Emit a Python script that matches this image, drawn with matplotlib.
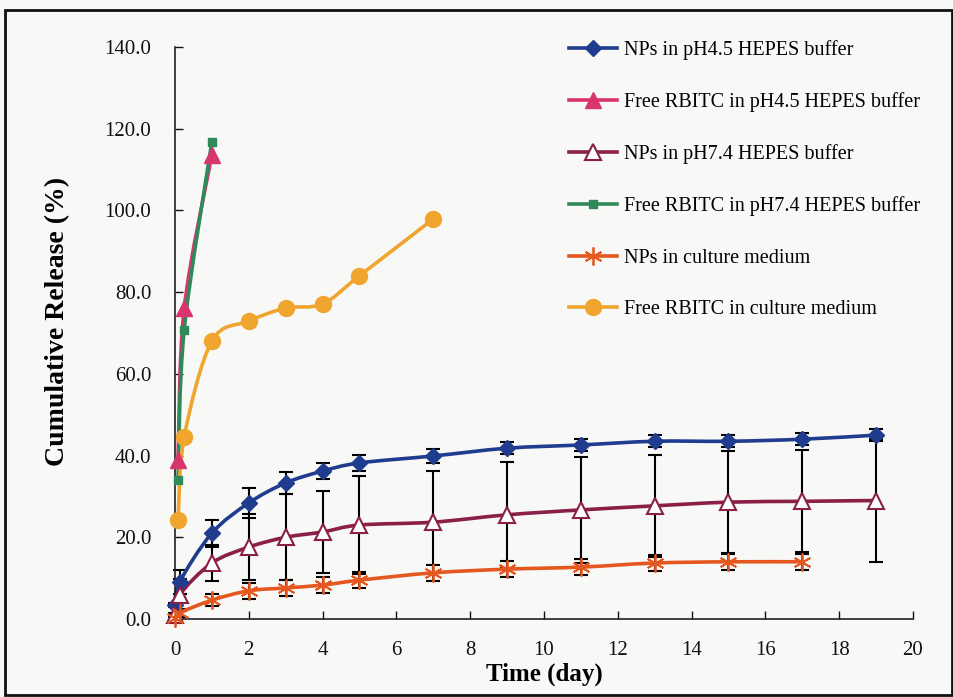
import matplotlib
matplotlib.use('Agg')
import matplotlib.pyplot as plt
import numpy as np
from matplotlib.path import Path
from matplotlib.patches import PathPatch, Rectangle
from matplotlib.lines import Line2D

# data
t_np = [0, 0.125, 1, 2, 3, 4, 5, 7, 9, 11, 13, 15, 17, 19]
np45 = [3.4, 9.0, 21.0, 28.4, 33.3, 36.2, 38.2, 39.9, 41.8, 42.6, 43.5, 43.5, 44.0, 45.0]
np45_err = [0.5, 3.0, 3.3, 3.7, 2.7, 2.0, 2.0, 1.8, 1.5, 1.5, 1.5, 1.5, 1.5, 1.5]
np74 = [1.0, 5.9, 13.7, 17.6, 20.0, 21.3, 23.0, 23.7, 25.5, 26.7, 27.7, 28.6, 28.8, 29.0]
np74_err = [0.5, 4.0, 4.5, 8.0, 10.5, 10.0, 12.0, 12.5, 13.0, 13.0, 12.5, 12.5, 12.5, 15.0]
t_np_med = [0, 0.125, 1, 2, 3, 4, 5, 7, 9, 11, 13, 15, 17]
np_med = [0.3, 1.5, 4.6, 6.9, 7.6, 8.3, 9.5, 11.3, 12.2, 12.7, 13.7, 14.0, 14.0]
np_med_err = [0.5, 1.0, 1.5, 2.0, 2.0, 2.0, 2.0, 2.0, 2.0, 2.0, 2.0, 2.0, 2.0]

t_free = [0.083, 0.25, 1]
free45 = [38.9, 76.0, 113.6]
free74 = [34.0, 70.7, 116.8]
t_free_med = [0.083, 0.25, 1, 2, 3, 4, 5, 7]
free_med = [24.2, 44.5, 68.0, 72.9, 76.1, 77.1, 84.0, 97.9]

labels = ['NPs in pH4.5 HEPES buffer', 'Free RBITC in pH4.5 HEPES buffer',
          'NPs in pH7.4 HEPES buffer', 'Free RBITC in pH7.4 HEPES buffer',
          'NPs in culture medium', 'Free RBITC in culture medium']
x_ticks = [0, 2, 4, 6, 8, 10, 12, 14, 16, 18, 20]
y_ticks = [0, 20, 40, 60, 80, 100, 120, 140]

c_blue = '#1f3c8f'
c_pink = '#d8356e'
c_maroon = '#8a1f48'
c_green = '#2f8a5a'
c_red = '#e4571f'
c_gold = '#efa52e'

plt.rcParams['font.family'] = ['Liberation Serif', 'DejaVu Serif']


def smooth_path(x, y):
    # excel-like smoothed line (catmull-rom as bezier)
    x = np.asarray(x, float)
    y = np.asarray(y, float)
    pts = np.column_stack([x, y])
    verts = [pts[0]]
    codes = [Path.MOVETO]
    n = len(pts)
    for i in range(n - 1):
        p0 = pts[i - 1] if i > 0 else pts[i]
        p1 = pts[i]
        p2 = pts[i + 1]
        p3 = pts[i + 2] if i + 2 < n else pts[i + 1]
        c1 = p1 + (p2 - p0) / 6
        c2 = p2 - (p3 - p1) / 6
        verts += [c1, c2, p2]
        codes += [Path.CURVE4] * 3
    return Path(verts, codes)


fig = plt.figure(figsize=(9.54, 6.97), dpi=100, facecolor='#f8f8f6')
ax = fig.add_axes([0.1834, 0.1119, 0.7736, 0.8207])
ax.set_facecolor('none')

series = [
    (t_np, np45, np45_err, c_blue, dict(marker='D', ms=8.5, mfc=c_blue, mec=c_blue)),
    (t_free, free45, None, c_pink, dict(marker='^', ms=11, mfc=c_pink, mec=c_pink)),
    (t_np, np74, np74_err, c_maroon, dict(marker='^', ms=12, mfc='white', mec=c_maroon, mew=1.5)),
    (t_free, free74, None, c_green, dict(marker='s', ms=6, mfc=c_green, mec=c_green)),
    (t_np_med, np_med, np_med_err, c_red, dict(marker=(6, 2, 0), ms=13, mfc=c_red, mec=c_red, mew=1.3)),
    (t_free_med, free_med, None, c_gold, dict(marker='o', ms=11.5, mfc=c_gold, mec=c_gold)),
]

handles = []
for k, (tx, vals, err, col, mk) in enumerate(series):
    if err is not None:
        ax.errorbar(tx, vals, yerr=err, fmt='none', ecolor='black', elinewidth=1.5,
                    capsize=5, capthick=1.5, zorder=1 + k * 0.1, clip_on=False)
    ax.add_patch(PathPatch(smooth_path(tx, vals), fill=False, edgecolor=col, lw=2.6,
                           zorder=2 + k * 0.1, clip_on=False))
    ax.plot(tx, vals, linestyle='none', zorder=3 + k * 0.1, clip_on=False, **mk)
    handles.append(Line2D([0], [0], color=col, lw=2.6, **mk))

ax.set_xlim(0, 20)
ax.set_ylim(0, 140)
ax.set_xticks(x_ticks)
ax.set_yticks(y_ticks)
ax.set_yticklabels([f'{v:.1f}' for v in y_ticks])
ax.spines['top'].set_visible(False)
ax.spines['right'].set_visible(False)
for s in ['left', 'bottom']:
    ax.spines[s].set_linewidth(1.2)
    ax.spines[s].set_color('#222222')
ax.tick_params(axis='both', direction='in', length=6, width=1, labelsize=15, colors='#111111')
ax.tick_params(axis='y', pad=17)
ax.tick_params(axis='x', pad=16)

ax.set_xlabel('Time (day)', fontsize=18, fontweight='bold', labelpad=2)
ax.set_ylabel('Cumulative Release (%)', fontsize=20, fontweight='bold')
ax.yaxis.set_label_coords(-0.1423, 0.521)

fig.legend(handles, labels, loc='upper left', bbox_to_anchor=(0.5964, 0.9427),
           frameon=False, fontsize=14.5, handlelength=2.4, handletextpad=0.35,
           labelspacing=1.6, borderpad=0, borderaxespad=0)

# scanned frame around the figure
fig.add_artist(Rectangle((5 / 954, 2 / 697), 947 / 954, 685 / 697, transform=fig.transFigure,
                         fill=False, edgecolor='#111111', lw=2))

fig.savefig('out.png', dpi=100, facecolor=fig.get_facecolor())
